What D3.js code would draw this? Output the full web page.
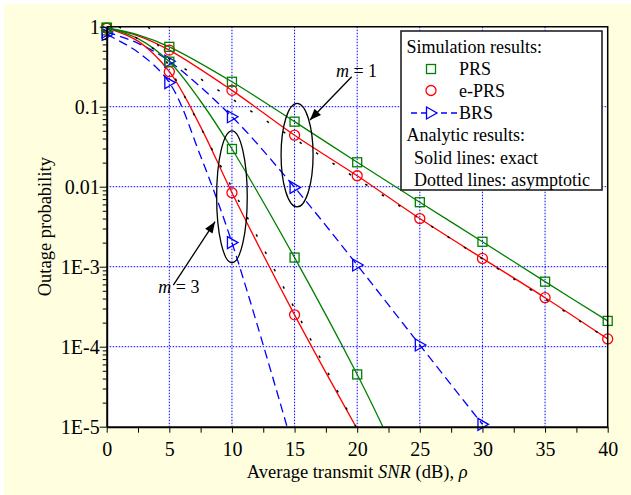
<!DOCTYPE html>
<html>
<head>
<meta charset="utf-8">
<script src="https://cdn.jsdelivr.net/npm/d3@7"></script>
<style>
  body { margin: 0; background: #fff; }
  svg { display: block; font-family: "Liberation Serif", "Times New Roman", serif; }
</style>
</head>
<body>
<svg id="chart" width="631" height="495"></svg>
<script>
// ---- data ----
const xTickVals = [0, 5, 10, 15, 20, 25, 30, 35, 40];
const yTickVals = [1, 0.1, 0.01, 1e-3, 1e-4, 1e-5];
const yTickLabels = ["1", "0.1", "0.01", "1E-3", "1E-4", "1E-5"];

// m = 1, simulation markers
const snrM1 = [0, 5, 10, 15, 20, 25, 30, 35, 40];
const prsM1 = [0.97, 0.56, 0.205, 0.065, 0.0202, 0.0064, 0.00205, 0.00065, 0.00021];
const eprsM1 = [0.96, 0.51, 0.16, 0.044, 0.0137, 0.0040, 0.00127, 0.00041, 0.000125];
const snrBrsM1 = [0, 5, 10, 15, 20, 25, 30];
const brsM1 = [0.86, 0.37, 0.075, 0.0098, 0.00105, 0.000105, 0.0000107];

// m = 3, simulation markers
const snrPrsM3 = [0, 5, 10, 15, 20];
const prsM3 = [0.97, 0.365, 0.0296, 0.0013, 0.000045];
const snrEprsM3 = [0, 5, 10, 15];
const eprsM3 = [0.96, 0.274, 0.0084, 0.00025];
const snrBrsM3 = [0, 5, 10];
const brsM3 = [0.8, 0.2, 0.002];

// exact curves: extra points read where the lines bend near 0 dB and where they leave the plot
const prsM1Extra = [[2.5, 0.79]];
const eprsM1Extra = [[2.5, 0.77]];
const brsM1Extra = [[2.5, 0.62]];
const prsM3Extra = [[2.5, 0.71], [7.5, 0.117], [22.05, 1e-5]];
const eprsM3Extra = [[2.5, 0.66], [7.5, 0.056], [19.9, 1e-5]];
const brsM3Extra = [[2.5, 0.48], [7.5, 0.024], [14.4, 1e-5]];

// asymptotic (dotted) lines, end points
const asymM1 = [[0.97, 1], [40, 0.000125]];
const asymM3 = [[3.33, 1], [19.9, 1e-5]];

// ---- layout ----
const svg = d3.select("#chart");
const x = d3.scaleLinear().domain([0, 40]).range([106.7, 607.7]);
const y = d3.scaleLog().domain([1e-5, 1]).range([426.7, 26.7]);

const green = "#008000", red = "#FF0000", blue = "#0000FF";

svg.append("rect").attr("x", 4).attr("y", 4).attr("width", 627).attr("height", 491)
  .attr("fill", "#FFFFE0");
svg.append("rect").attr("x", x(0)).attr("y", y(1))
  .attr("width", x(40) - x(0)).attr("height", y(1e-5) - y(1)).attr("fill", "#fff");

svg.append("defs").append("clipPath").attr("id", "clip")
  .append("rect").attr("x", x(0)).attr("y", y(1))
  .attr("width", x(40) - x(0)).attr("height", y(1e-5) - y(1));

// grid
const grid = svg.append("g").attr("stroke", blue).attr("stroke-width", 1)
  .attr("stroke-dasharray", "1.5,1.5");
grid.selectAll(".gv").data(xTickVals.filter(d => d > 0 && d < 40)).join("line")
  .attr("x1", d => x(d)).attr("x2", d => x(d)).attr("y1", y(1)).attr("y2", y(1e-5));
grid.selectAll(".gh").data(yTickVals.filter(d => d < 1 && d > 1e-5)).join("line")
  .attr("x1", x(0)).attr("x2", x(40)).attr("y1", d => y(d)).attr("y2", d => y(d));

// curves
const toPts = (xs, ys, extra) =>
  xs.map((d, i) => [d, ys[i]]).concat(extra).sort((a, b) => a[0] - b[0]);

const series = [
  { pts: toPts(snrBrsM1, brsM1, brsM1Extra), color: blue, dash: "9,5" },
  { pts: toPts(snrBrsM3, brsM3, brsM3Extra), color: blue, dash: "9,5" },
  { pts: toPts(snrM1, eprsM1, eprsM1Extra), color: red },
  { pts: toPts(snrEprsM3, eprsM3, eprsM3Extra), color: red },
  { pts: toPts(snrM1, prsM1, prsM1Extra), color: green },
  { pts: toPts(snrPrsM3, prsM3, prsM3Extra), color: green }
];

const line = d3.line().x(d => x(d[0])).y(d => y(d[1])).curve(d3.curveCatmullRom.alpha(0.5));
const plot = svg.append("g").attr("clip-path", "url(#clip)");

plot.selectAll(".curve").data(series).join("path")
  .attr("d", d => line(d.pts))
  .attr("fill", "none")
  .attr("stroke", d => d.color)
  .attr("stroke-width", 1.3)
  .attr("stroke-dasharray", d => d.dash || null);

const straight = d3.line().x(d => x(d[0])).y(d => y(d[1]));
plot.selectAll(".asym").data([asymM1, asymM3]).join("path")
  .attr("d", straight)
  .attr("fill", "none")
  .attr("stroke", "#000")
  .attr("stroke-width", 1.5)
  .attr("stroke-dasharray", "2.5,17");

// markers
const triPath = "M-4.5,-6L6,0L-4.5,6Z";
function drawMarkers(xs, ys, kind, color) {
  const g = svg.append("g").attr("fill", "none").attr("stroke", color).attr("stroke-width", 1.3);
  const pts = xs.map((d, i) => [d, ys[i]]);
  if (kind === "square") {
    g.selectAll("rect").data(pts).join("rect")
      .attr("x", d => x(d[0]) - 4.5).attr("y", d => y(d[1]) - 4.5)
      .attr("width", 9).attr("height", 9);
  } else if (kind === "circle") {
    g.selectAll("circle").data(pts).join("circle")
      .attr("cx", d => x(d[0])).attr("cy", d => y(d[1])).attr("r", 5);
  } else {
    g.selectAll("path").data(pts).join("path")
      .attr("d", triPath)
      .attr("transform", d => `translate(${x(d[0])},${y(d[1])})`);
  }
}
drawMarkers(snrBrsM1, brsM1, "tri", blue);
drawMarkers(snrBrsM3, brsM3, "tri", blue);
drawMarkers(snrM1, eprsM1, "circle", red);
drawMarkers(snrEprsM3, eprsM3, "circle", red);
drawMarkers(snrM1, prsM1, "square", green);
drawMarkers(snrPrsM3, prsM3, "square", green);

// frame (top / right)
svg.append("path")
  .attr("d", `M${x(0)},${y(1)}H${x(40)}V${y(1e-5)}`)
  .attr("fill", "none").attr("stroke", "#000").attr("stroke-width", 1.5);

// axes
const xAxis = d3.axisBottom(x)
  .tickValues(d3.range(0, 40.1, 2.5))
  .tickSize(6).tickSizeOuter(0).tickPadding(9)
  .tickFormat(d => (d % 5 === 0 ? d : ""));
const gx = svg.append("g").attr("transform", `translate(0,${y(1e-5)})`).call(xAxis);
gx.select(".domain").attr("stroke-width", 2);
gx.selectAll("text").attr("font-size", 20).attr("font-family", "Liberation Serif").attr("fill", "#000");

const minorVals = [];
for (let e = -5; e <= 0; e++) for (let k = 1; k <= 9; k++) {
  const v = k * Math.pow(10, e);
  if (v <= 1.0000001) minorVals.push(v);
}
const yAxis = d3.axisLeft(y)
  .tickValues(minorVals)
  .tickSize(7).tickSizeOuter(0).tickPadding(0)
  .tickFormat(d => {
    const i = yTickVals.findIndex(v => Math.abs(Math.log10(v) - Math.log10(d)) < 1e-6);
    return i >= 0 ? yTickLabels[i] : "";
  });
const gy = svg.append("g").attr("transform", `translate(${x(0)},0)`).call(yAxis);
gy.select(".domain").attr("stroke-width", 2);
gy.selectAll(".tick line").attr("x2", d => {
  const major = yTickVals.some(v => Math.abs(Math.log10(v) - Math.log10(d)) < 1e-6);
  return major ? -7 : -4;
});
gy.selectAll("text").attr("font-size", 20).attr("font-family", "Liberation Serif").attr("fill", "#000");

// axis titles
const xt = svg.append("text").attr("x", (x(0) + x(40)) / 2).attr("y", 478)
  .attr("text-anchor", "middle").attr("font-size", 18.5);
xt.append("tspan").text("Average transmit ");
xt.append("tspan").attr("font-style", "italic").text("SNR");
xt.append("tspan").text(" (dB), ");
xt.append("tspan").attr("font-style", "italic").text("ρ");

svg.append("text")
  .attr("transform", `translate(51,${(y(1) + y(1e-5)) / 2}) rotate(-90)`)
  .attr("text-anchor", "middle").attr("font-size", 18.5)
  .text("Outage probability");

// annotations: ellipses and arrows
const ellipses = [
  { cx: 15.2, top: 0.11, bottom: 0.0056, rx: 16 },
  { cx: 10, top: 0.05, bottom: 0.00112, rx: 15.3 }
];
svg.selectAll(".ell").data(ellipses).join("ellipse")
  .attr("cx", d => x(d.cx))
  .attr("cy", d => (y(d.top) + y(d.bottom)) / 2)
  .attr("rx", d => d.rx)
  .attr("ry", d => (y(d.bottom) - y(d.top)) / 2)
  .attr("fill", "none").attr("stroke", "#000").attr("stroke-width", 1.3);

svg.select("defs").append("marker")
  .attr("id", "arrow").attr("viewBox", "0 0 10 8").attr("refX", 10).attr("refY", 4)
  .attr("markerWidth", 12).attr("markerHeight", 9).attr("markerUnits", "userSpaceOnUse")
  .attr("orient", "auto")
  .append("path").attr("d", "M0,0L10,4L0,8Z").attr("fill", "#000");

const arrows = [
  { from: [19.56, 0.237], to: [16.23, 0.0682] },
  { from: [5.32, 0.00059], to: [8.65, 0.00365] }
];
svg.selectAll(".arr").data(arrows).join("line")
  .attr("x1", d => x(d.from[0])).attr("y1", d => y(d.from[1]))
  .attr("x2", d => x(d.to[0])).attr("y2", d => y(d.to[1]))
  .attr("stroke", "#000").attr("stroke-width", 1.3)
  .attr("marker-end", "url(#arrow)");

const mLabels = [
  { at: [18.3, 0.237], val: "1" },
  { at: [4.12, 0.000465], val: "3" }
];
mLabels.forEach(d => {
  const t = svg.append("text").attr("x", x(d.at[0])).attr("y", y(d.at[1])).attr("font-size", 18);
  t.append("tspan").attr("font-style", "italic").text("m");
  t.append("tspan").text(" = " + d.val);
});

// legend
const lg = svg.append("g");
lg.append("rect").attr("x", 401).attr("y", 31).attr("width", 201).attr("height", 159)
  .attr("fill", "#fff").attr("stroke", "#222").attr("stroke-width", 1.6);
const lt = (tx, ty, s) => lg.append("text").attr("x", tx).attr("y", ty).attr("font-size", 18).text(s);
lt(406.5, 53, "Simulation results:");
lt(459, 75, "PRS");
lt(459, 97, "e-PRS");
lt(459, 119, "BRS");
lt(406.5, 141, "Analytic results:");
lt(414, 163.5, "Solid lines: exact");
lt(414, 185.5, "Dotted lines: asymptotic");
lg.append("rect").attr("x", 431 - 4.5).attr("y", 69 - 4.5).attr("width", 9).attr("height", 9)
  .attr("fill", "none").attr("stroke", green).attr("stroke-width", 1.3);
lg.append("circle").attr("cx", 431).attr("cy", 90.5).attr("r", 5)
  .attr("fill", "none").attr("stroke", red).attr("stroke-width", 1.3);
lg.append("line").attr("x1", 411).attr("x2", 457).attr("y1", 113).attr("y2", 113)
  .attr("stroke", blue).attr("stroke-width", 1.3).attr("stroke-dasharray", "6,4");
lg.append("path").attr("d", triPath).attr("transform", "translate(431,113)")
  .attr("fill", "#fff").attr("stroke", blue).attr("stroke-width", 1.3);
</script>
</body>
</html>
